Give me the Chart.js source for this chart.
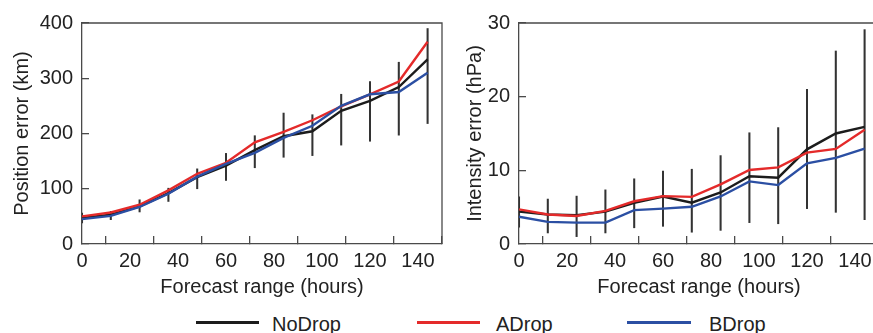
<!DOCTYPE html>
<html><head><meta charset="utf-8">
<script src="https://cdn.jsdelivr.net/npm/chart.js@4.4.0/dist/chart.umd.min.js"></script>
<style>
html,body{margin:0;padding:0;background:#fff;overflow:hidden;width:873px;height:333px;}
#w1{position:absolute;left:0;top:0;width:450px;height:300px;}
#w2{position:absolute;left:437px;top:0;width:450px;height:300px;}
.leg{position:absolute;top:312px;height:24px;line-height:24px;font-size:20px;font-family:"Liberation Sans",Arial,sans-serif;color:#222;white-space:nowrap;}
.sw{position:absolute;top:321px;height:2.6px;}
</style></head><body>
<div id="w1"><canvas id="c1" width="450" height="300"></canvas></div>
<div id="w2"><canvas id="c2" width="450" height="300"></canvas></div>
<div class="sw" style="left:196px;width:63px;background:#1c1c1c"></div>
<div class="leg" style="left:272px">NoDrop</div>
<div class="sw" style="left:417px;width:63px;background:#e42a2a"></div>
<div class="leg" style="left:496px">ADrop</div>
<div class="sw" style="left:627px;width:64px;background:#2b4fa3"></div>
<div class="leg" style="left:709px">BDrop</div>
<script>
const hours = [0,12,24,36,48,60,72,84,96,108,120,132,144];
const seriesNames = ["NoDrop","ADrop","BDrop"];
const seriesColors = ["#1c1c1c","#e42a2a","#2b4fa3"];

const posNoDrop = [47,53,68,92,121,142,170,195,204,241,259,284,334];
const posADrop  = [50,57,71,97,127,147,184,203,224,249,271,294,366];
const posBDrop  = [45,51,67,91,122,145,165,192,214,250,271,275,310];
const posErrLow  = [38,44,58,77,100,115,138,157,160,179,186,197,218];
const posErrHigh = [56,59,80,101,136,164,196,237,234,271,294,329,390];

const intNoDrop = [4.4,4.0,3.9,4.4,5.6,6.45,5.6,7.0,9.2,9.0,12.85,15.0,15.9];
const intADrop  = [4.7,4.0,3.8,4.5,5.8,6.5,6.4,8.1,10.05,10.4,12.4,12.9,15.5];
const intBDrop  = [3.7,3.0,2.9,2.9,4.6,4.8,5.05,6.45,8.5,8.0,10.95,11.7,12.95];
const intErrLow  = [2.3,1.5,1.0,1.5,2.2,2.4,1.6,1.85,2.9,2.75,4.8,4.3,3.3];
const intErrHigh = [6.4,6.1,6.5,7.35,8.85,9.9,10.15,12.0,15.1,15.8,21.0,26.2,29.1];

const xTitle = "Forecast range (hours)";
const FONT = '"Liberation Sans", Arial, sans-serif';
const AXC = '#4a4a4a';
const TXT = '#222';

const boxPlugin = {
  id: 'box',
  afterDatasetsDraw(chart) {
    const {ctx, chartArea: a} = chart;
    ctx.save();
    ctx.strokeStyle = AXC; ctx.lineWidth = 1.3;
    ctx.beginPath();
    ctx.moveTo(a.left, a.top); ctx.lineTo(a.right, a.top); ctx.lineTo(a.right, a.bottom);
    ctx.stroke();
    ctx.restore();
  }
};

function makeChart(id, lines, lo, hi, yMax, yStep, yTitle, padLeft, yWidth) {
  const datasets = lines.map((d, k) => ({
    type: 'line', label: seriesNames[k],
    data: hours.map((h, i) => ({x: h, y: d[i]})),
    borderColor: seriesColors[k], borderWidth: 2.4, pointRadius: 0, tension: 0,
    fill: false, order: 3 - k
  }));
  datasets.push({
    type: 'bar', label: 'range',
    data: hours.map((h, i) => ({x: h, y: [lo[i], hi[i]]})),
    backgroundColor: '#333333', borderWidth: 0, barThickness: 1.4, grouped: false, order: 10
  });
  return new Chart(document.getElementById(id), {
    type: 'line',
    data: {datasets},
    plugins: [boxPlugin],
    options: {
      responsive: false, animation: false,
      layout: {padding: {left: padLeft, top: 23, right: 8, bottom: 1}},
      plugins: {legend: {display: false}, tooltip: {enabled: false}},
      scales: {
        x: {
          type: 'linear', min: 0, max: 150, offset: false,
          ticks: {stepSize: 20, includeBounds: false, padding: 13, color: TXT, font: {family: FONT, size: 20}, maxRotation: 0},
          grid: {drawOnChartArea: false, drawTicks: true, tickLength: -8, color: AXC, lineWidth: 1.3},
          border: {display: true, color: AXC, width: 1.3},
          title: {display: true, text: xTitle, color: TXT, font: {family: FONT, size: 20}, padding: {top: 0, bottom: 0}},
          afterFit(s) { s.height = 55; s.paddingLeft = 0; s.paddingRight = 0; }
        },
        y: {
          type: 'linear', min: 0, max: yMax,
          ticks: {stepSize: yStep, padding: 16, color: TXT, font: {family: FONT, size: 20}},
          grid: {drawOnChartArea: false, drawTicks: true, tickLength: -7, color: AXC, lineWidth: 1.3},
          border: {display: true, color: AXC, width: 1.3},
          title: {display: true, text: yTitle, color: TXT, font: {family: FONT, size: 20}, padding: {top: 0, bottom: 0}},
          afterFit(s) { s.width = yWidth; s.paddingTop = 0; s.paddingBottom = 0; }
        }
      }
    }
  });
}

makeChart('c1', [posNoDrop, posADrop, posBDrop], posErrLow, posErrHigh, 400, 100, 'Position error (km)', 10, 72);
makeChart('c2', [intNoDrop, intADrop, intBDrop], intErrLow, intErrHigh, 30, 10, 'Intensity error (hPa)', 26, 56);
</script>
</body></html>
